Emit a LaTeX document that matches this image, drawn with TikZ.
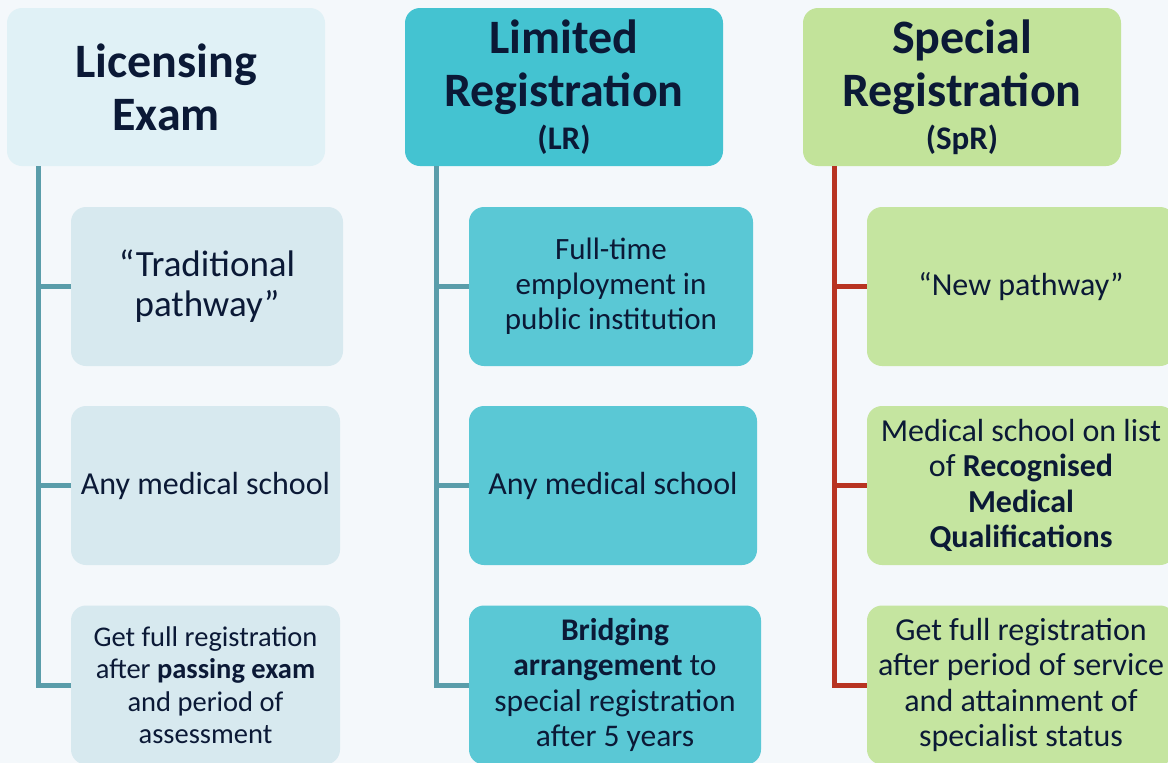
\documentclass[tikz,border=0pt]{standalone}
\usepackage{fontspec}
\setmainfont{Carlito}
\definecolor{bg}{HTML}{F4F8FB}
\definecolor{txt}{HTML}{0B1936}
\definecolor{hA}{HTML}{E0F1F6}
\definecolor{bA}{HTML}{D7E9EF}
\definecolor{hB}{HTML}{44C3D1}
\definecolor{bB}{HTML}{5AC8D5}
\definecolor{hC}{HTML}{C2E39A}
\definecolor{bC}{HTML}{C5E5A0}
\definecolor{lnA}{HTML}{5A9DAA}
\definecolor{lnC}{HTML}{B83422}
\begin{document}
\begin{tikzpicture}[x=1pt,y=-1pt,
  box/.style={rounded corners=15pt, inner sep=0pt, align=center, text=txt, anchor=center},
  hdr/.style={box, minimum width=318pt, minimum height=158pt, font=\bfseries\fontsize{48}{53}\selectfont},
  item/.style={box, minimum height=159pt},
  conn/.style={line width=5pt, line join=miter}]
\fill[bg] (0,0) rectangle (1168,763);
\clip (0,0) rectangle (1168,763);
% headers
\node[hdr, fill=hA] (h1) at (166,87) {Licensing\\Exam};
\node[hdr, fill=hB] (h2) at (564,87) {Limited\\Registration\\[-10pt]{\fontsize{33}{36}\selectfont (LR)}};
\node[hdr, fill=hC] (h3) at (962,87) {Special\\Registration\\[-10pt]{\fontsize{33}{36}\selectfont (SpR)}};
% column 1
\node[item, fill=bA, minimum width=272pt, font=\fontsize{37}{40}\selectfont] (c11) at (207,286.5) {“Traditional\\pathway”};
\node[item, fill=bA, minimum width=269pt, font=\fontsize{32}{35}\selectfont] (c12) at (205.5,485.5) {Any medical school};
\node[item, fill=bA, minimum width=269pt, font=\fontsize{28.5}{32.5}\selectfont] (c13) at (205.5,685) {Get full registration\\after \textbf{passing exam}\\and period of\\assessment};
% column 2
\node[item, fill=bB, minimum width=284pt, font=\fontsize{31}{35}\selectfont] (c21) at (611,286.5) {Full-time\\employment in\\public institution};
\node[item, fill=bB, minimum width=288pt, font=\fontsize{32}{35}\selectfont] (c22) at (613,485.5) {Any medical school};
\node[item, fill=bB, minimum width=292pt, font=\fontsize{31.5}{35.5}\selectfont] (c23) at (615,685) {\textbf{Bridging}\\\textbf{arrangement} to\\special registration\\after 5 years};
% column 3
\node[item, fill=bC, minimum width=308pt, font=\fontsize{32}{35}\selectfont] (c31) at (1021,286.5) {“New pathway”};
\node[item, fill=bC, minimum width=308pt, font=\fontsize{32}{35.5}\selectfont] (c32) at (1021,485.5) {Medical school on list\\of \textbf{Recognised}\\\textbf{Medical}\\\textbf{Qualifications}};
\node[item, fill=bC, minimum width=308pt, font=\fontsize{32}{35.5}\selectfont] (c33) at (1021,685) {Get full registration\\after period of service\\and attainment of\\specialist status};
% connectors
\foreach \h/\c/\col in {h1/c1/lnA, h2/c2/lnA, h3/c3/lnC}{
  \draw[conn, draw=\col] ([xshift=32pt]\h.south west) |- (\c1.west);
  \draw[conn, draw=\col] ([xshift=32pt]\h.south west) |- (\c2.west);
  \draw[conn, draw=\col] ([xshift=32pt]\h.south west) |- (\c3.west);
}
\end{tikzpicture}
\end{document}
